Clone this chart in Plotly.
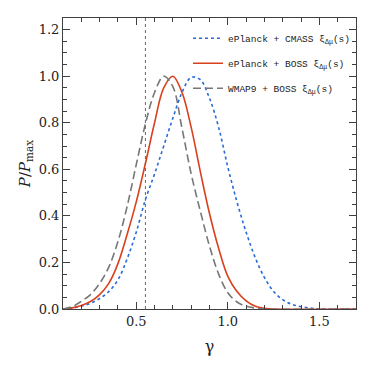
import plotly.graph_objects as go

# gamma grid and normalised posteriors
gamma_wmap = [0.10, 0.15, 0.20, 0.25, 0.30, 0.35, 0.40, 0.45, 0.50, 0.55, 0.60, 0.65,
              0.70, 0.75, 0.80, 0.85, 0.90, 0.95, 1.00, 1.05, 1.10, 1.15, 1.20, 1.70]
p_wmap = [0.000, 0.010, 0.033, 0.062, 0.110, 0.180, 0.290, 0.440, 0.620, 0.795, 0.930, 1.000,
          0.955, 0.775, 0.580, 0.420, 0.270, 0.150, 0.070, 0.030, 0.012, 0.004, 0.000, 0.000]

gamma_boss = [0.10, 0.15, 0.20, 0.25, 0.30, 0.35, 0.40, 0.45, 0.50, 0.55, 0.60, 0.65, 0.70,
              0.75, 0.80, 0.85, 0.90, 0.95, 1.00, 1.05, 1.10, 1.15, 1.20, 1.25, 1.70]
p_boss = [0.000, 0.005, 0.015, 0.032, 0.062, 0.110, 0.195, 0.320, 0.460, 0.625, 0.800, 0.950, 1.000,
          0.930, 0.780, 0.590, 0.410, 0.260, 0.140, 0.075, 0.035, 0.012, 0.003, 0.000, 0.000]

gamma_cmass = [0.10, 0.15, 0.20, 0.25, 0.30, 0.35, 0.40, 0.45, 0.50, 0.55, 0.60, 0.65, 0.70, 0.75,
               0.80, 0.85, 0.90, 0.95, 1.00, 1.05, 1.10, 1.15, 1.20, 1.25, 1.30, 1.35, 1.40, 1.45,
               1.50, 1.70]
p_cmass = [0.000, 0.004, 0.012, 0.025, 0.045, 0.075, 0.125, 0.215, 0.330, 0.470, 0.580, 0.700, 0.820,
           0.930, 0.995, 0.985, 0.905, 0.780, 0.610, 0.460, 0.330, 0.220, 0.135, 0.075, 0.040, 0.020,
           0.010, 0.004, 0.000, 0.000]

gr_gamma = 0.55

names = ["ePlanck + CMASS ξ<sub>Δμ</sub>(s)",
         "ePlanck + BOSS ξ<sub>Δμ</sub>(s)",
         "WMAP9 + BOSS ξ<sub>Δμ</sub>(s)"]

x_ticks = [0.5, 1.0, 1.5]
y_ticks = [0.0, 0.2, 0.4, 0.6, 0.8, 1.0, 1.2]

font_family = "DejaVu Serif, serif"
legend_family = "Liberation Mono, DejaVu Sans Mono, monospace"
axis_color = "#404040"

fig = go.Figure()
fig.add_trace(go.Scatter(x=gamma_cmass, y=p_cmass, mode="lines", name=names[0], legendgroup="a",
                         line=dict(color="#2a6ad8", width=1.6, dash="3px,3px", shape="spline")))
fig.add_trace(go.Scatter(x=gamma_boss, y=p_boss, mode="lines", name=names[1], legendgroup="b",
                         line=dict(color="#d9401c", width=1.6, shape="spline")))
fig.add_trace(go.Scatter(x=gamma_wmap, y=p_wmap, mode="lines", name=names[2], legendgroup="c",
                         line=dict(color="#777777", width=1.6, dash="8px,4px", shape="spline")))

fig.add_vline(x=gr_gamma, line=dict(color="#666666", width=1, dash="dot"))

fig.update_layout(
    width=374, height=374,
    margin=dict(l=55, r=26, t=10, b=73),
    paper_bgcolor="white", plot_bgcolor="white",
    font=dict(family=font_family, color="#222222", size=13),
    showlegend=True,
    legend=dict(x=1.0, y=0.98, xanchor="right", yanchor="top",
                bgcolor="rgba(0,0,0,0)", font=dict(size=9.5, family=legend_family, color="#222222"),
                itemwidth=30, tracegroupgap=6),
)
fig.update_xaxes(
    range=[0.1, 1.7], tickvals=x_ticks, tickformat=".1f", automargin=False,
    ticks="inside", ticklen=7, tickcolor=axis_color, tickwidth=1,
    minor=dict(dtick=0.1, tick0=0.1, ticks="inside", ticklen=4, tickcolor=axis_color),
    showline=True, linecolor=axis_color, linewidth=1, mirror="allticks",
    showgrid=False, zeroline=False,
    title=dict(text="γ", font=dict(size=16), standoff=13),
)
fig.update_yaxes(
    range=[0, 1.25], tickvals=y_ticks, tickformat=".1f", automargin=False,
    ticks="inside", ticklen=7, tickcolor=axis_color, tickwidth=1,
    minor=dict(dtick=0.05, tick0=0, ticks="inside", ticklen=4, tickcolor=axis_color),
    showline=True, linecolor=axis_color, linewidth=1, mirror="allticks",
    showgrid=False, zeroline=False,
    title=dict(text="<i>P</i>/<i>P</i><sub>max</sub>", font=dict(size=15), standoff=4),
)

fig.write_html("out.html")
